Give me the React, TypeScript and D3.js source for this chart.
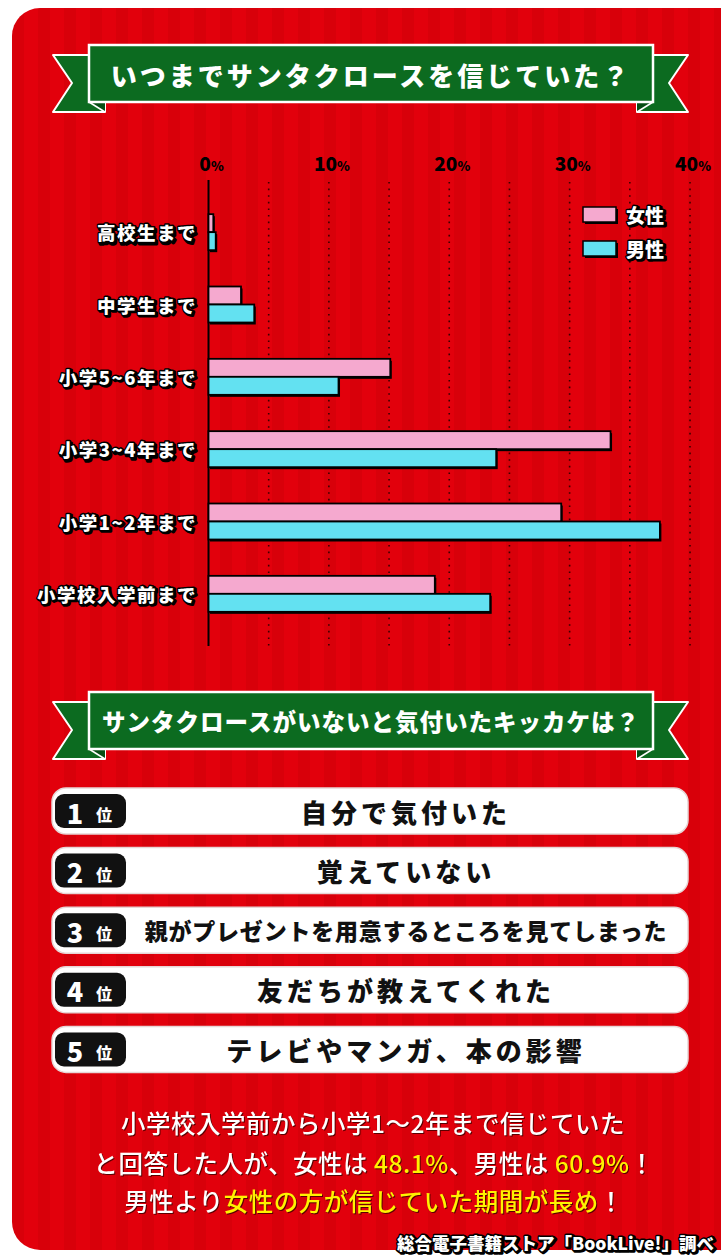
import React, { useEffect } from "react";
import * as d3 from "d3";

const categories = ["高校生まで", "中学生まで", "小学5~6年まで", "小学3~4年まで", "小学1~2年まで", "小学校入学前まで"];
const female = [0.4, 2.7, 15.1, 33.4, 29.3, 18.8];
const male = [0.6, 3.8, 10.8, 23.9, 37.5, 23.4];
const xTicks = [0, 10, 20, 30, 40];
const gridTicks = [5, 10, 15, 20, 25, 30, 35, 40];
const seriesNames = ["女性", "男性"];
const rankNums = ["1", "2", "3", "4", "5"];
const reasons = [
  "自分で気付いた",
  "覚えていない",
  "親がプレゼントを用意するところを見てしまった",
  "友だちが教えてくれた",
  "テレビやマンガ、本の影響",
];
const title1 = "いつまでサンタクロースを信じていた？";
const title2 = "サンタクロースがいないと気付いたキッカケは？";
const source = "総合電子書籍ストア「BookLive!」調べ";

const PINK = "#f5a9cf";
const CYAN = "#63e1f1";
const GREEN = "#0c6b20";
const RED = "#e2000c";
const FONT = "'Noto Sans CJK JP', 'Noto Sans', sans-serif";

function Ribbon({ top, text, size, spacing }: { top: number; text: string; size: number; spacing: number }) {
  const T = top;
  return (
    <g>
      <polygon
        points={`53,${T + 10} 105,${T + 10} 105,${T + 67} 53,${T + 67} 72,${T + 38}`}
        fill={GREEN}
        stroke="#fff"
        strokeWidth={2}
        strokeLinejoin="round"
      />
      <polygon
        points={`637,${T + 10} 688,${T + 10} 669,${T + 38} 688,${T + 67} 637,${T + 67}`}
        fill={GREEN}
        stroke="#fff"
        strokeWidth={2}
        strokeLinejoin="round"
      />
      <polygon points={`89,${T + 57} 105,${T + 57} 105,${T + 67}`} fill="#064d14" />
      <polygon points={`653,${T + 57} 637,${T + 57} 637,${T + 67}`} fill="#064d14" />
      <line x1={89} y1={T + 57} x2={105} y2={T + 67} stroke="#fff" strokeWidth={1.5} />
      <line x1={653} y1={T + 57} x2={637} y2={T + 67} stroke="#fff" strokeWidth={1.5} />
      <rect x={89} y={T} width={564} height={57} fill={GREEN} stroke="#fff" strokeWidth={2.5} />
      <text
        x={371}
        y={T + 29}
        textAnchor="middle"
        dominantBaseline="central"
        fill="#fff"
        fontSize={size}
        fontWeight={900}
        letterSpacing={spacing}
        fontFamily={FONT}
      >
        {text}
      </text>
    </g>
  );
}

export default function App() {
  useEffect(() => {
    document.body.style.margin = "0";
  }, []);

  const x = d3.scaleLinear().domain([0, 40]).range([208.5, 690]);
  const y = d3.scaleBand<string>().domain(categories).range([196, 630]);
  const barH = 18;

  const rankY = d3.scaleBand<string>().domain(rankNums).range([782, 1080]);

  const outlineText = (props: any, content: any, key?: any) => (
    <g key={key}>
      <text {...props} x={props.x + 1.5} y={props.y + 1.5} fill="#000" stroke="#000" strokeWidth={3.5} strokeLinejoin="round">
        {content}
      </text>
      <text {...props} fill="#fff" stroke="#000" strokeWidth={3} strokeLinejoin="round" paintOrder="stroke">
        {content}
      </text>
    </g>
  );

  const bars = (vals: number[], color: string, offset: number) =>
    vals.map((v, i) => {
      const c = categories[i];
      const yc = (y(c) as number) + y.bandwidth() / 2;
      const by = yc - barH + offset;
      const w = x(v) - x(0);
      return (
        <g key={color + i}>
          <rect x={x(0) + 1.5} y={by + 2} width={w} height={barH} fill="#000" />
          <rect x={x(0)} y={by} width={w} height={barH} fill={color} stroke="#000" strokeWidth={1.8} />
        </g>
      );
    });

  return (
    <svg width={721} height={1256} style={{ display: "block" }} fontFamily={FONT}>
      <defs>
        <pattern id="stripes" width={26} height={10} patternUnits="userSpaceOnUse" x={12}>
          <rect width={26} height={10} fill={RED} />
          <rect x={0} width={12} height={10} fill="#cf0009" opacity={0.55} />
        </pattern>
      </defs>
      <rect width={721} height={1256} fill="#fff" />
      <rect x={12} y={8} width={740} height={1242} rx={28} fill="url(#stripes)" />

      <Ribbon top={45} text={title1} size={26} spacing={3} />

      {/* grid */}
      {gridTicks.map((t) => (
        <line key={t} x1={x(t)} x2={x(t)} y1={182} y2={650} stroke="#3a0000" strokeWidth={1.6} strokeDasharray="1.6,5" />
      ))}
      <line x1={x(0)} x2={x(0)} y1={180} y2={646} stroke="#000" strokeWidth={2} />
      {xTicks.map((t) => (
        <text key={t} x={x(t) + 3} y={171} textAnchor="middle" fontWeight={900} fill="#000" fontSize={19}>
          {t}
          <tspan fontSize={13}>%</tspan>
        </text>
      ))}

      {bars(female, PINK, 0)}
      {bars(male, CYAN, barH)}

      {categories.map((c, i) =>
        outlineText(
          {
            x: 197,
            y: (y(c) as number) + y.bandwidth() / 2,
            textAnchor: "end",
            dominantBaseline: "central",
            fontSize: 18.5,
            letterSpacing: 1.5,
            fontWeight: 900,
          },
          c,
          "cat" + i
        )
      )}

      {/* legend */}
      {seriesNames.map((s, i) => {
        const ly = 214 + i * 34;
        return (
          <g key={s}>
            <rect x={585} y={ly - 7 + 2} width={33} height={15} fill="#000" />
            <rect x={583} y={ly - 7} width={33} height={15} fill={i === 0 ? PINK : CYAN} stroke="#000" strokeWidth={1.5} />
            {outlineText(
              { x: 626, y: ly, dominantBaseline: "central", fontSize: 19, fontWeight: 900, fill: "#fff" },
              s
            )}
          </g>
        );
      })}

      <Ribbon top={692} text={title2} size={23.5} spacing={1} />

      {/* ranking */}
      {rankNums.map((r, i) => {
        const top = rankY(r) as number;
        const h = 46;
        const cy = top + 6 + h / 2;
        return (
          <g key={r}>
            <rect x={52} y={top + 6} width={636} height={h} rx={14} fill="#fff" stroke="#e6d6d6" strokeWidth={1.5} />
            <rect x={55} y={cy - 17} width={71} height={34} rx={9} fill="#111" />
            <text x={75} y={cy + 1} textAnchor="middle" dominantBaseline="central" fill="#fff" fontSize={27} fontWeight={900}>
              {r}
            </text>
            <text x={104} y={cy + 3} textAnchor="middle" dominantBaseline="central" fill="#fff" fontSize={16} fontWeight={900}>
              位
            </text>
            <text
              x={406}
              y={cy}
              textAnchor="middle"
              dominantBaseline="central"
              fill="#111"
              fontSize={i === 2 ? 23 : 26}
              letterSpacing={i === 2 ? 0.8 : 4}
              fontWeight={900}
            >
              {reasons[i]}
            </text>
          </g>
        );
      })}

      {/* summary */}
      <g fontSize={24.5} fontWeight={500} textAnchor="middle" style={{ filter: "drop-shadow(1.5px 1.5px 0px #5a0000)" }}>
        <text x={373} y={1133} fill="#fff" letterSpacing={0.5}>
          小学校入学前から小学1～2年まで信じていた
        </text>
        <text x={374} y={1173} fill="#fff" letterSpacing={0.5}>
          と回答した人が、女性は<tspan fill="#fff200"> 48.1%</tspan>、男性は<tspan fill="#fff200"> 60.9%</tspan>！
        </text>
        <text x={374} y={1211} fill="#fff" letterSpacing={0.5}>
          男性より<tspan fill="#fff200">女性の方が信じていた期間が長め</tspan>！
        </text>
      </g>

      {outlineText(
        { x: 714, y: 1242, textAnchor: "end", dominantBaseline: "central", fontSize: 17.5, fontWeight: 900 },
        source
      )}
    </svg>
  );
}
